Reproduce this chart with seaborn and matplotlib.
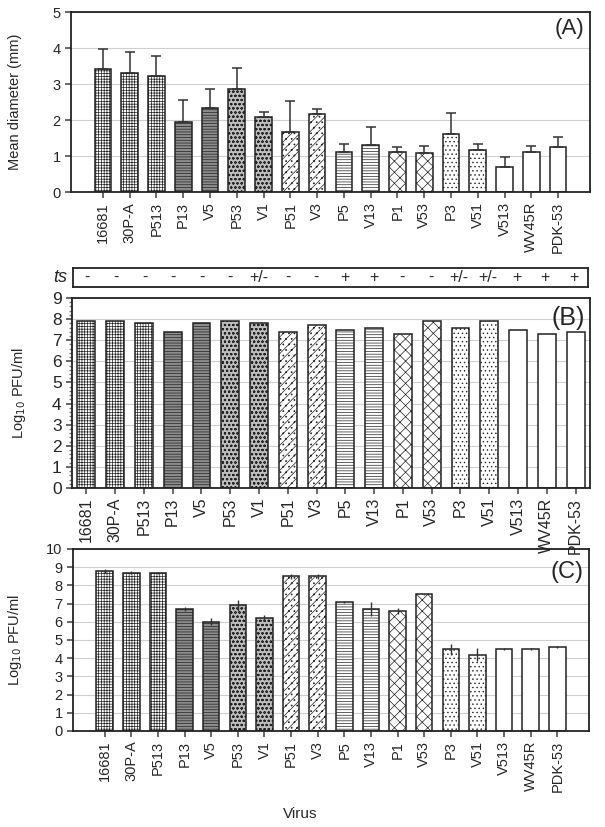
import numpy as np
import pandas as pd
import matplotlib
matplotlib.use("Agg")
import matplotlib.pyplot as plt
import seaborn as sns

# ==========================================
# Data
# ==========================================

viruses = ["16681", "30P-A", "P513", "P13", "V5", "P53", "V1", "P51", "V3",
           "P5", "V13", "P1", "V53", "P3", "V51", "V513", "WV45R", "PDK-53"]

# (A) plaque size
plaque_mean = [3.42, 3.31, 3.22, 1.95, 2.34, 2.88, 2.09, 1.67, 2.17,
               1.11, 1.31, 1.11, 1.09, 1.61, 1.18, 0.71, 1.11, 1.27]
plaque_sd = [0.56, 0.58, 0.57, 0.62, 0.52, 0.58, 0.14, 0.87, 0.14,
             0.24, 0.50, 0.15, 0.20, 0.58, 0.15, 0.26, 0.18, 0.27]

# temperature sensitivity
ts_marks = ["-", "-", "-", "-", "-", "-", "+/-", "-", "-",
            "+", "+", "-", "-", "+/-", "+/-", "+", "+", "+"]

# (B) titer at permissive temperature
titer_b = [7.9, 7.9, 7.8, 7.4, 7.8, 7.9, 7.8, 7.4, 7.7,
           7.5, 7.6, 7.3, 7.9, 7.6, 7.9, 7.5, 7.3, 7.4]

# (C) titer
titer_c = [8.8, 8.7, 8.7, 6.7, 6.0, 6.9, 6.2, 8.5, 8.5,
           7.1, 6.7, 6.6, 7.5, 4.5, 4.2, 4.5, 4.5, 4.6]
titer_c_sd = [0.10, 0.10, 0.05, 0.12, 0.20, 0.30, 0.15, 0.15, 0.15,
              0.05, 0.40, 0.15, 0.03, 0.30, 0.35, 0.05, 0.07, 0.05]

# hatch / fill per virus group
hatches = ["++++++", "++++++", "++++++", "------", "------", "oooo", "oooo",
           "////...", "////...", "------", "------", "xxx", "xxx", "....", "....",
           "", "", ""]
faces = ["white", "white", "white", "#8c8c8c", "#8c8c8c", "#bdbdbd", "#bdbdbd",
         "white", "white", "white", "white", "white", "white", "white", "white",
         "white", "white", "white"]

# ==========================================
# Style
# ==========================================

sns.set_theme(style="ticks")
plt.rcParams["font.family"] = ["Liberation Sans", "DejaVu Sans"]
plt.rcParams["hatch.linewidth"] = 0.5
plt.rcParams["hatch.color"] = "black"

df = pd.DataFrame({
    "Virus": viruses,
    "plaque": plaque_mean,
    "titer_b": titer_b,
    "titer_c": titer_c,
})

fig = plt.figure(figsize=(6.05, 8.27), dpi=100)

ax_a = fig.add_axes([0.1174, 0.7675, 0.8578, 0.2176])
ax_ts = fig.add_axes([0.1207, 0.6530, 0.8512, 0.0229])
ax_b = fig.add_axes([0.1190, 0.4099, 0.8562, 0.2298])
ax_c = fig.add_axes([0.1207, 0.1161, 0.8529, 0.2201])


def draw_bars(ax, col, label_size):
    sns.barplot(data=df, x="Virus", y=col, color="white", width=0.62,
                edgecolor="black", linewidth=1.1, ax=ax, errorbar=None)
    for patch, h, fc in zip(ax.patches, hatches, faces):
        patch.set_hatch(h)
        patch.set_facecolor(fc)
        patch.set_edgecolor("#222222")
    ax.set_axisbelow(True)
    ax.yaxis.grid(True, color="#cfcfcf", linewidth=0.8)
    for side in ["top", "right", "left", "bottom"]:
        ax.spines[side].set_visible(True)
        ax.spines[side].set_linewidth(1.3)
        ax.spines[side].set_color("#222222")
    ax.tick_params(axis="x", rotation=90, labelsize=label_size, length=4,
                   color="#555555", pad=3)
    ax.tick_params(axis="y", labelsize=label_size, length=4, color="#555555")
    ax.set_xlabel("")


# ==========================================
# (A) Mean diameter
# ==========================================

draw_bars(ax_a, "plaque", 10.5)
ax_a.errorbar(np.arange(len(viruses)), plaque_mean,
              yerr=[np.zeros(len(viruses)), plaque_sd],
              fmt="none", ecolor="#333333", elinewidth=1.1, capsize=3.5, capthick=1.1)
ax_a.set_ylim(0, 5)
ax_a.set_yticks(range(0, 6))
ax_a.set_ylabel("Mean diameter (mm)", fontsize=10.5)
ax_a.yaxis.set_label_coords(-0.095, 0.5)
ax_a.text(0.99, 0.91, "(A)", transform=ax_a.transAxes, ha="right", va="center",
          fontsize=16)

# ==========================================
# ts row
# ==========================================

ax_ts.set_xlim(-0.5, len(viruses) - 0.5)
ax_ts.set_ylim(0, 1)
ax_ts.set_xticks([])
ax_ts.set_yticks([])
for side in ["top", "right", "left", "bottom"]:
    ax_ts.spines[side].set_linewidth(1.3)
    ax_ts.spines[side].set_color("#222222")
for i, mark in enumerate(ts_marks):
    ax_ts.text(i, 0.5, mark, ha="center", va="center", fontsize=11.5)
ax_ts.text(-0.012, 0.5, "ts", transform=ax_ts.transAxes, ha="right",
           va="center", fontsize=13, style="italic")

# ==========================================
# (B) Titer
# ==========================================

draw_bars(ax_b, "titer_b", 11.5)
ax_b.set_ylim(0, 9)
ax_b.set_yticks(range(0, 10))
ax_b.tick_params(axis="y", labelsize=12.5)
ax_b.set_yticks(np.arange(0, 9, 0.2), minor=True)
ax_b.tick_params(axis="y", which="minor", length=2, color="#777777", left=True)
ax_b.set_ylabel("Log$_{10}$ PFU/ml", fontsize=10.5)
ax_b.yaxis.set_label_coords(-0.085, 0.5)
ax_b.text(0.99, 0.895, "(B)", transform=ax_b.transAxes, ha="right", va="center",
          fontsize=18)
ax_b.set_zorder(3)

# ==========================================
# (C) Titer
# ==========================================

draw_bars(ax_c, "titer_c", 10.5)
ax_c.errorbar(np.arange(len(viruses)), titer_c, yerr=titer_c_sd,
              fmt="none", ecolor="#333333", elinewidth=1.0, capsize=0)
ax_c.set_ylim(0, 10)
ax_c.set_yticks(range(0, 11))
ax_c.set_ylabel("Log$_{10}$ PFU/ml", fontsize=10.5)
ax_c.yaxis.set_label_coords(-0.095, 0.5)
ax_c.set_xlabel("Virus", fontsize=11)
ax_c.xaxis.set_label_coords(0.44, -0.42)
ax_c.text(0.99, 0.875, "(C)", transform=ax_c.transAxes, ha="right", va="center",
          fontsize=17)

fig.savefig("out.png", dpi=100)
